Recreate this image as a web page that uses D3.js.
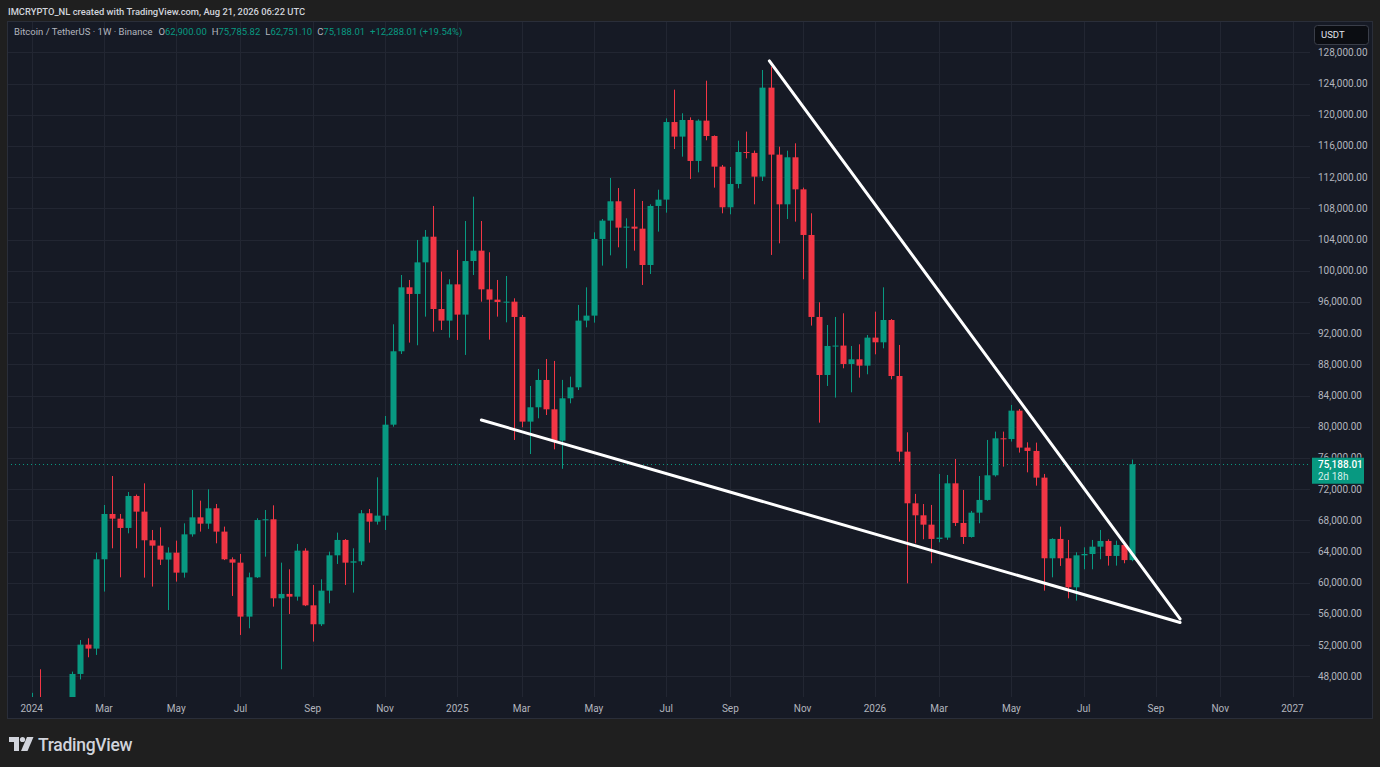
<!DOCTYPE html>
<html>
<head>
<meta charset="utf-8">
<script src="https://cdn.jsdelivr.net/npm/d3@7"></script>
<style>
  html, body { margin: 0; padding: 0; background: #1f1f1f; }
  svg { display: block; font-family: Roboto, 'Noto Sans', sans-serif; }
</style>
</head>
<body>
<svg id="chart" width="1380" height="767"></svg>
<script>
// weekly BTC/USDT candles, first candle = week of 2024-01-01
const startWeek = '2024-01-01';
const opens = [
  42280, 43930, 41730, 41580, 42030, 42580, 48300, 52060, 51550, 63000,
  68810, 68210, 67020, 71120, 69110, 65440, 64750, 62960, 63850, 61290,
  66200, 68380, 67570, 69540, 66550, 63000, 62570, 55650, 60690, 68040,
  68130, 58000, 58560, 58210, 64110, 57100, 54670, 58980, 63510, 65480,
  62570, 62740, 68900, 67830, 68600, 80260, 89670, 97870, 97020, 101070,
  104360, 95090, 93600, 98250, 94370, 101240, 102570, 97610, 96290, 95990,
  96030, 94070, 80650, 82490, 85990, 82230, 78210, 83640, 85050, 93600,
  94240, 104070, 106420, 108900, 105520, 105650, 105390, 100730, 108300, 109110,
  119060, 117190, 119320, 114070, 119240, 117270, 113340, 108130, 111120, 115220,
  115100, 112060, 123470, 114880, 108510, 114540, 110430, 104580, 94070, 86630,
  90350, 90400, 88040, 88640, 87830, 91420, 90820, 93680, 86500, 76800,
  70180, 68640, 67440, 65610, 65780, 72740, 67660, 65860, 68980, 70610,
  73770, 78510, 78420, 82060, 77320, 76890, 73470, 63130, 65610, 63130,
  59410, 63510, 63680, 64620, 65350, 63430, 64840, 62900
];
const highs = [
  45880, 48900, 43500, 42850, 43880, 48600, 52650, 52870, 63850, 69960,
  73680, 68810, 71630, 71300, 72740, 66760, 67100, 64540, 65390, 67610,
  71890, 70520, 71970, 70090, 67190, 63250, 63680, 61290, 68260, 69320,
  69920, 62570, 61720, 64970, 64410, 59710, 60440, 63980, 66420, 65600,
  64410, 69320, 69450, 73510, 81370, 93130, 99450, 98810, 103940, 105220,
  108300, 99880, 98900, 102660, 106370, 109490, 106370, 102360, 98810, 99320,
  96460, 94320, 85220, 87400, 88680, 88430, 86000, 86420, 95610, 97870,
  104920, 106630, 111890, 110600, 106720, 110480, 108940, 108510, 110390, 119530,
  123210, 120180, 119660, 119400, 124360, 117350, 113550, 113300, 116670, 117830,
  115400, 125730, 126160, 115900, 115390, 116330, 110650, 107360, 95950, 93040,
  94070, 94540, 90350, 90560, 91760, 94750, 97870, 93800, 90480, 79280,
  71380, 70090, 69970, 73940, 73810, 75860, 71890, 69200, 73680, 78300,
  79370, 79370, 82790, 82270, 78000, 77960, 73940, 65700, 67190, 65480,
  63900, 64540, 65480, 66760, 65560, 65390, 65100, 75785.82
];
const lows = [
  40750, 41500, 40600, 38500, 41880, 42250, 47600, 50440, 50740, 58860,
  64410, 60690, 66330, 64410, 60650, 59500, 62270, 56500, 60140, 60650,
  65900, 66550, 66900, 65050, 62900, 58300, 53300, 54160, 60600, 63340,
  56930, 48900, 55990, 57700, 57000, 52450, 54450, 57360, 62400, 59710,
  58730, 62270, 65140, 67450, 66760, 80000, 89320, 90780, 90440, 94110,
  92190, 92400, 91420, 91120, 89200, 99450, 96030, 91160, 94110, 93380,
  78300, 79920, 76500, 81080, 81500, 77100, 74600, 83000, 84700, 92740,
  93340, 100650, 101970, 103000, 100310, 102570, 98170, 99580, 105010, 107440,
  115600, 114620, 111760, 112610, 116720, 110650, 107360, 107230, 110560, 114400,
  108510, 111500, 102020, 103510, 106630, 106290, 98900, 92960, 80520, 85220,
  83730, 87490, 84410, 86290, 86720, 89280, 90050, 86080, 75520, 59920,
  65050, 65570, 62490, 65180, 65500, 67270, 64970, 65780, 67620, 70500,
  73600, 74880, 78100, 76680, 74150, 72440, 58980, 60690, 62150, 58000,
  57700, 61720, 61720, 63000, 62190, 62190, 62490, 62751.10
];
const closes = [
  43930, 41730, 41580, 42030, 42580, 48300, 52060, 51550, 63000, 68810,
  68210, 67020, 71120, 69110, 65440, 64750, 62960, 63850, 61290, 66200,
  68380, 67570, 69540, 66550, 63000, 62570, 55650, 60690, 68040, 68130,
  58000, 58560, 58210, 64110, 57100, 54670, 58980, 63510, 65480, 62570,
  62740, 68900, 67830, 68600, 80260, 89670, 97870, 97020, 101070, 104360,
  95090, 93600, 98250, 94370, 101240, 102570, 97610, 96290, 95990, 96030,
  94070, 80650, 82490, 85990, 82230, 78210, 83640, 85050, 93600, 94240,
  104070, 106420, 108900, 105520, 105650, 105390, 100730, 108300, 109110, 119060,
  117190, 119320, 114070, 119240, 117270, 113340, 108130, 111120, 115220, 115100,
  112060, 123470, 114880, 108510, 114540, 110430, 104580, 94070, 86630, 90350,
  90400, 88040, 88640, 87830, 91420, 90820, 93680, 86500, 76800, 70180,
  68640, 67440, 65610, 65780, 72740, 67660, 65860, 68980, 70610, 73770,
  78510, 78420, 82060, 77320, 76890, 73470, 63130, 65610, 63130, 59410,
  63510, 63680, 64620, 65350, 63430, 64840, 62900, 75188.01
];

const priceTicks = [
  48000, 52000, 56000, 60000, 64000, 68000, 72000, 76000, 80000, 84000, 88000,
  92000, 96000, 100000, 104000, 108000, 112000, 116000, 120000, 124000, 128000
];
const timeTicks = [
  '2024-01-01', '2024-03-04', '2024-05-06', '2024-07-01', '2024-09-02', '2024-11-04',
  '2025-01-06', '2025-03-03', '2025-05-05', '2025-07-07', '2025-09-01', '2025-11-03',
  '2026-01-05', '2026-03-02', '2026-05-04', '2026-07-06', '2026-09-07', '2026-11-02',
  '2027-01-04'
];
const timeLabels = [
  '2024', 'Mar', 'May', 'Jul', 'Sep', 'Nov', '2025', 'Mar', 'May', 'Jul', 'Sep', 'Nov',
  '2026', 'Mar', 'May', 'Jul', 'Sep', 'Nov', '2027'
];

// hand drawn wedge lines [date, price]
const lowerTrend = [['2025-01-27', 80860], ['2026-09-28', 54900]];
const upperTrend = [['2025-10-05', 126900], ['2026-09-28', 55350]];

const lastPrice = 75188.01;
const timeLeft = '2d 18h';

const green = '#089981';
const red = '#f23645';
const textColor = '#b2b5be';

const panel = { left: 7, top: 21, right: 1372, bottom: 718 };
const plot = { left: 7, top: 21, right: 1310, bottom: 697 };

const svg = d3.select('#chart');
const parseDay = d3.utcParse('%Y-%m-%d');
const weekDates = opens.map((d, i) => d3.utcDay.offset(parseDay(startWeek), i * 7));

const x = d3
  .scaleUtc()
  .domain([parseDay('2024-01-01'), parseDay('2027-01-04')])
  .range([31.7, 1292.5]);

const y = d3.scaleLinear().domain([48000, 128000]).range([676.3, 52.3]);

const fmt = d3.format(',.2f');

// header line above the panel
svg
  .append('text')
  .attr('x', 8)
  .attr('y', 15)
  .attr('fill', '#d1d4dc')
  .attr('font-size', 9.4)
  .attr('font-weight', 500)
  .text('IMCRYPTO_NL created with TradingView.com, Aug 21, 2026 06:22 UTC');

svg
  .append('rect')
  .attr('x', panel.left + 0.5)
  .attr('y', panel.top + 0.5)
  .attr('width', panel.right - panel.left)
  .attr('height', panel.bottom - panel.top)
  .attr('fill', '#161a25')
  .attr('stroke', '#2a2e39');

svg
  .append('clipPath')
  .attr('id', 'plot-clip')
  .append('rect')
  .attr('x', plot.left + 1)
  .attr('y', plot.top + 1)
  .attr('width', plot.right - plot.left - 1)
  .attr('height', plot.bottom - plot.top - 1);

// grid
const grid = svg.append('g').attr('stroke', '#222632').attr('stroke-width', 1);
grid
  .selectAll('.hgrid')
  .data(priceTicks)
  .join('line')
  .attr('x1', plot.left + 1)
  .attr('x2', plot.right)
  .attr('y1', (d) => Math.round(y(d)) + 0.5)
  .attr('y2', (d) => Math.round(y(d)) + 0.5);
grid
  .selectAll('.vgrid')
  .data(timeTicks)
  .join('line')
  .attr('x1', (d) => Math.round(x(parseDay(d))) + 0.5)
  .attr('x2', (d) => Math.round(x(parseDay(d))) + 0.5)
  .attr('y1', plot.top + 1)
  .attr('y2', plot.bottom);

const plotG = svg.append('g').attr('clip-path', 'url(#plot-clip)');

// last price dotted line
plotG
  .append('line')
  .attr('x1', plot.left)
  .attr('x2', plot.right)
  .attr('y1', Math.round(y(lastPrice)) + 0.5)
  .attr('y2', Math.round(y(lastPrice)) + 0.5)
  .attr('stroke', green)
  .attr('stroke-dasharray', '1,3');

// candles
const candles = plotG
  .selectAll('.candle')
  .data(opens.map((o, i) => ({ date: weekDates[i], o, h: highs[i], l: lows[i], c: closes[i] })))
  .join('g')
  .attr('fill', (d) => (d.c >= d.o ? green : red))
  .attr('stroke', (d) => (d.c >= d.o ? green : red));

candles
  .append('line')
  .attr('x1', (d) => Math.round(x(d.date)) + 0.5)
  .attr('x2', (d) => Math.round(x(d.date)) + 0.5)
  .attr('y1', (d) => y(d.h))
  .attr('y2', (d) => y(d.l))
  .attr('stroke-width', 1);

const bodyW = 6;
candles
  .append('rect')
  .attr('x', (d) => Math.round(x(d.date)) + 0.5 - bodyW / 2)
  .attr('width', bodyW)
  .attr('y', (d) => y(Math.max(d.o, d.c)))
  .attr('height', (d) => Math.max(1, Math.abs(y(d.o) - y(d.c))))
  .attr('stroke', 'none');

// wedge lines
const trendLine = d3
  .line()
  .x((d) => x(parseDay(d[0])))
  .y((d) => y(d[1]));

plotG
  .selectAll('.trend')
  .data([lowerTrend, upperTrend])
  .join('path')
  .attr('d', trendLine)
  .attr('fill', 'none')
  .attr('stroke', '#ffffff')
  .attr('stroke-width', 3)
  .attr('stroke-linecap', 'round');

// price axis labels (the one under the last price box is hidden by it, as in TV)
svg
  .append('g')
  .selectAll('text')
  .data(priceTicks.filter((d) => Math.abs(y(d) - y(lastPrice)) > 12))
  .join('text')
  .attr('x', 1318)
  .attr('y', (d) => y(d))
  .attr('dy', '0.35em')
  .attr('fill', textColor)
  .attr('font-size', 10)
  .text((d) => fmt(d));

// time axis labels
svg
  .append('g')
  .selectAll('text')
  .data(timeTicks)
  .join('text')
  .attr('x', (d) => x(parseDay(d)))
  .attr('y', 708)
  .attr('dy', '0.35em')
  .attr('text-anchor', 'middle')
  .attr('fill', textColor)
  .attr('font-size', 10)
  .text((d, i) => timeLabels[i]);

// currency box
svg
  .append('rect')
  .attr('x', 1314.5)
  .attr('y', 25.5)
  .attr('width', 54)
  .attr('height', 19)
  .attr('rx', 3)
  .attr('fill', '#0b0d12')
  .attr('stroke', '#3a3e49');
svg
  .append('text')
  .attr('x', 1321)
  .attr('y', 35)
  .attr('dy', '0.35em')
  .attr('fill', '#e0e3eb')
  .attr('font-size', 9.5)
  .text('USDT');

// last price label, with the clipped 76,000 tick peeking above it
const hidden = priceTicks.find((d) => Math.abs(y(d) - y(lastPrice)) <= 12);
svg
  .append('clipPath')
  .attr('id', 'peek-clip')
  .append('rect')
  .attr('x', 1310)
  .attr('y', y(hidden) - 8)
  .attr('width', 60)
  .attr('height', y(lastPrice) - 6.5 - (y(hidden) - 8));
svg
  .append('text')
  .attr('clip-path', 'url(#peek-clip)')
  .attr('x', 1318)
  .attr('y', y(hidden))
  .attr('dy', '0.35em')
  .attr('fill', textColor)
  .attr('font-size', 10)
  .text(fmt(hidden));

const lp = svg.append('g');
lp.append('rect')
  .attr('x', 1312)
  .attr('y', y(lastPrice) - 6.5)
  .attr('width', 52)
  .attr('height', 26)
  .attr('fill', green);
lp.append('text')
  .attr('x', 1318)
  .attr('y', y(lastPrice) + 0.5)
  .attr('dy', '0.35em')
  .attr('fill', '#ffffff')
  .attr('font-size', 10)
  .attr('font-weight', 500)
  .text(fmt(lastPrice));
lp.append('text')
  .attr('x', 1318)
  .attr('y', y(lastPrice) + 12)
  .attr('dy', '0.35em')
  .attr('fill', '#d6f0ea')
  .attr('font-size', 10)
  .text(timeLeft);

// legend row
const last = opens.length - 1;
const change = closes[last] - opens[last];
const legend = svg
  .append('text')
  .attr('x', 14)
  .attr('y', 32)
  .attr('dy', '0.35em')
  .attr('font-size', 9.5)
  .attr('fill', textColor);
legend.append('tspan').text('Bitcoin / TetherUS · 1W · Binance');
[['O', opens[last]], ['H', highs[last]], ['L', lows[last]], ['C', closes[last]]].forEach(([k, v], i) => {
  legend.append('tspan').attr('dx', i === 0 ? 6 : 5).text(k);
  legend.append('tspan').attr('fill', green).text(fmt(v));
});
legend
  .append('tspan')
  .attr('dx', 5)
  .attr('fill', green)
  .text(`+${fmt(change)} (+${d3.format('.2f')((change / opens[last]) * 100)}%)`);

// TradingView logo
const logo = svg.append('g').attr('fill', '#d1d4dc');
logo.append('path').attr('d', 'M9,737 H19 V751 H14 V742 H9 Z');
logo.append('circle').attr('cx', 22.5).attr('cy', 739.5).attr('r', 2.6);
logo.append('path').attr('d', 'M27,737 H33.5 L27.5,751 H21 Z');
svg
  .append('text')
  .attr('x', 38)
  .attr('y', 750.5)
  .attr('fill', '#d1d4dc')
  .attr('font-size', 17.5)
  .attr('font-weight', 500)
  .attr('letter-spacing', -0.3)
  .text('TradingView');
</script>
</body>
</html>
